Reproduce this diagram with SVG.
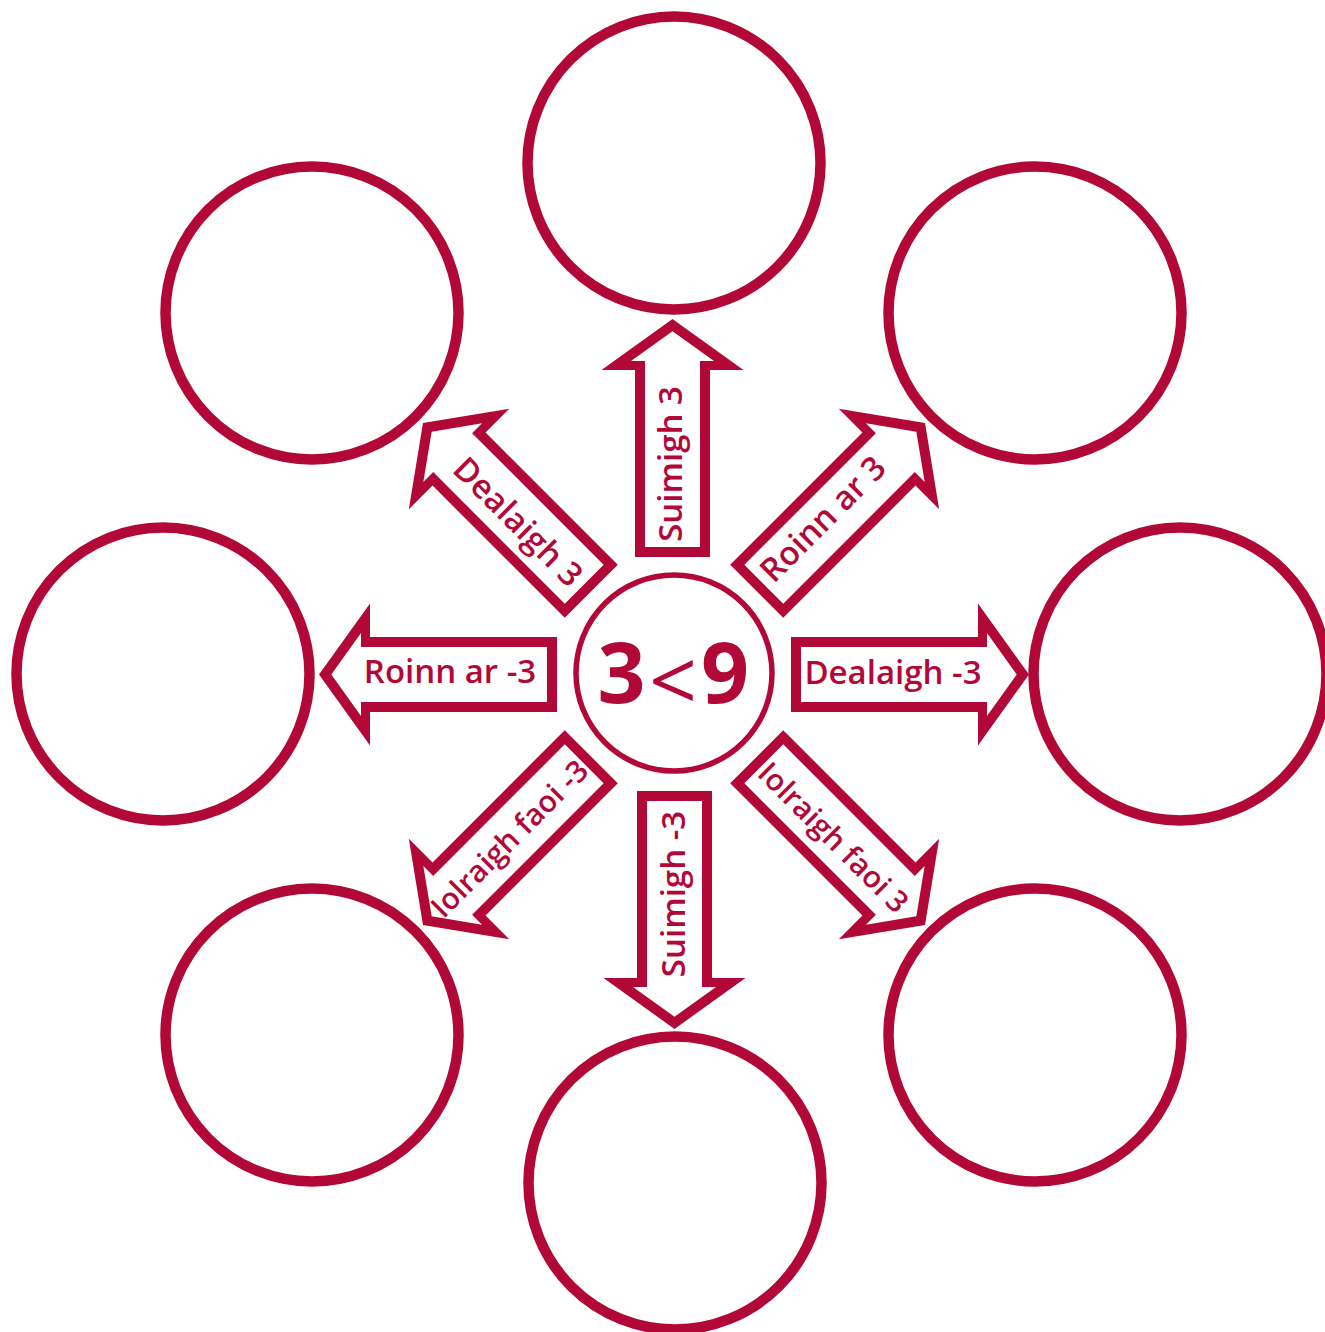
<svg xmlns="http://www.w3.org/2000/svg" xmlns:xlink="http://www.w3.org/1999/xlink" width="1325" height="1332" viewBox="0 0 1325 1332">
<style>
.ring{fill:none;stroke:#B20838;stroke-width:10.5}
.hub{fill:#fff;stroke:#B20838;stroke-width:5.5}
.arr{fill:#B20838;fill-rule:evenodd}
.lbl{font-family:"Open Sans","Liberation Sans",sans-serif;font-weight:600;fill:#B20838;text-anchor:middle}
.big{font-family:"Open Sans","Liberation Sans",sans-serif;font-weight:700;fill:#B20838;text-anchor:middle;font-size:84px}
</style>
<defs>
<path id="arrow" d="M117,-37.5 H304 V-71 L355,0 L304,71 V37.5 H117 Z M127,-27.5 H313 V-41.5 L342.7,0 L313,41.5 V27.5 H127 Z"/>
</defs>
<rect width="1325" height="1332" fill="#fff"/>
<g id="connectors">
<use xlink:href="#arrow" href="#arrow" class="arr" transform="translate(672.5,674) rotate(-90)"/>
<use xlink:href="#arrow" href="#arrow" class="arr" transform="translate(674,674) rotate(-45)"/>
<use xlink:href="#arrow" href="#arrow" class="arr" transform="translate(674,674.5)"/>
<use xlink:href="#arrow" href="#arrow" class="arr" transform="translate(674,674) rotate(45)"/>
<use xlink:href="#arrow" href="#arrow" class="arr" transform="translate(674.5,674) rotate(90)"/>
<use xlink:href="#arrow" href="#arrow" class="arr" transform="translate(674,674) rotate(135)"/>
<use xlink:href="#arrow" href="#arrow" class="arr" transform="translate(674,674.5) rotate(180)"/>
<use xlink:href="#arrow" href="#arrow" class="arr" transform="translate(674,674) rotate(-135)"/>
<text class="lbl" font-size="33" x="682" y="464" transform="rotate(-90,682,464)">Suimigh 3</text>
<text class="lbl" font-size="33" x="685" y="894" transform="rotate(-90,685,894)">Suimigh -3</text>
<text class="lbl" font-size="33" x="450" y="683">Roinn ar -3</text>
<text class="lbl" font-size="33" x="893" y="683.5">Dealaigh -3</text>
<text class="lbl" font-size="33" x="510" y="530" transform="rotate(45,510,530)">Dealaigh 3</text>
<text class="lbl" font-size="33" x="831" y="527" transform="rotate(-45,831,527)">Roinn ar 3</text>
<text class="lbl" font-size="30" x="517" y="846" transform="rotate(-45,517,846)">Iolraigh faoi -3</text>
<text class="lbl" font-size="30" x="826" y="845" transform="rotate(45,826,845)">Iolraigh faoi 3</text>
</g>
<g id="node-top"><circle class="ring" cx="674" cy="163" r="146.5"/></g>
<g id="node-top-right"><circle class="ring" cx="1035" cy="313" r="146.5"/></g>
<g id="node-right"><circle class="ring" cx="1180" cy="674" r="146.5"/></g>
<g id="node-bottom-right"><circle class="ring" cx="1035" cy="1035" r="146.5"/></g>
<g id="node-bottom"><circle class="ring" cx="675" cy="1183" r="146.5"/></g>
<g id="node-bottom-left"><circle class="ring" cx="312" cy="1035" r="146.5"/></g>
<g id="node-left"><circle class="ring" cx="163" cy="674" r="146.5"/></g>
<g id="node-top-left"><circle class="ring" cx="312" cy="313" r="146.5"/></g>
<g id="node-center">
<circle class="hub" cx="674" cy="673" r="98"/>
<text class="big" x="621.5" y="703">3</text>
<text class="big" x="725" y="703">9</text>
<text class="big" x="673" y="711" style="font-weight:400">&lt;</text>
</g>
</svg>
